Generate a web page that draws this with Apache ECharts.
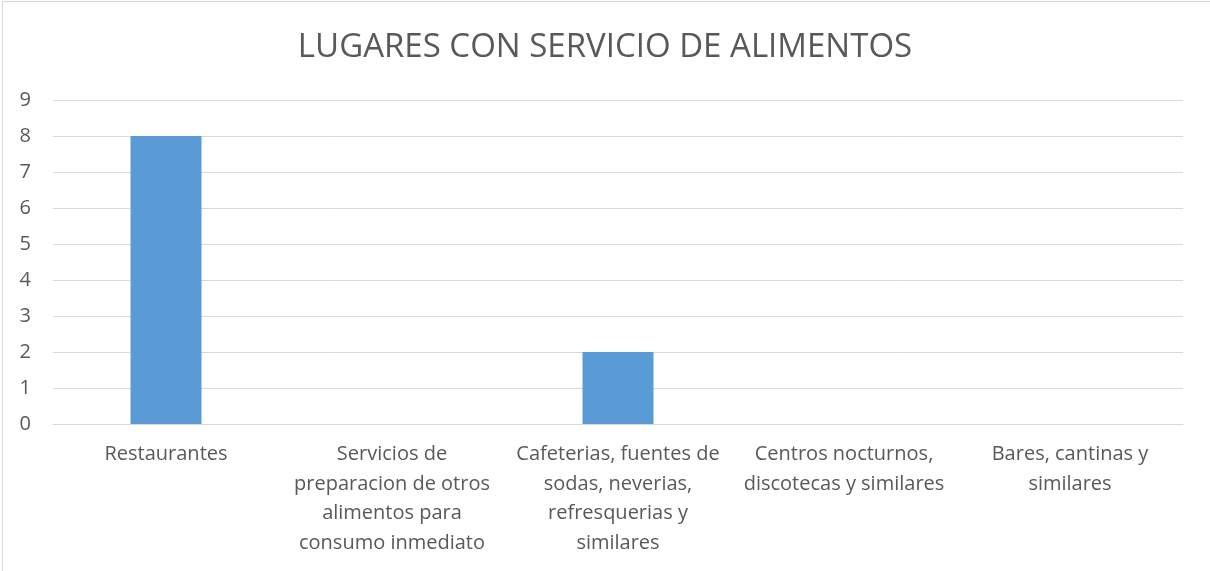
<!DOCTYPE html>
<html>
<head>
<meta charset="utf-8">
<script src="https://cdn.jsdelivr.net/npm/echarts@6/dist/echarts.min.js"></script>
<style>
  html, body { margin: 0; padding: 0; background: #fff; overflow: hidden; }
  .frame {
    position: absolute; left: 2px; top: 1px;
    width: 1300px; height: 700px;
    border: 1px solid #d9d9d9;
  }
  #chart { position: absolute; left: 0; top: 0; width: 1210px; height: 571px; }
</style>
</head>
<body>
<div class="frame"></div>
<div id="chart"></div>
<script>
const titleText = 'LUGARES CON SERVICIO DE ALIMENTOS'
const categories = [
  'Restaurantes',
  'Servicios de\npreparacion de otros\nalimentos para\nconsumo inmediato',
  'Cafeterias, fuentes de\nsodas, neverias,\nrefresquerias y\nsimilares',
  'Centros nocturnos,\ndiscotecas y similares',
  'Bares, cantinas y\nsimilares'
]
const values = [8, 0, 2, 0, 0]

const chart = echarts.init(document.getElementById('chart'))
const font = "'Open Sans', 'Noto Sans', sans-serif"

chart.setOption({
  backgroundColor: 'transparent',
  animation: false,
  title: {
    text: titleText,
    left: 'center',
    top: 26,
    textStyle: { color: '#595959', fontSize: 33, fontWeight: 'normal', fontFamily: font }
  },
  grid: { left: 53, right: 27, top: 100, bottom: 147 },
  xAxis: {
    type: 'category',
    data: categories,
    axisLine: { lineStyle: { color: '#d9d9d9', width: 1 } },
    axisTick: { show: false },
    axisLabel: {
      color: '#595959', fontSize: 20, fontFamily: font,
      lineHeight: 29.5, margin: 16, interval: 0
    }
  },
  yAxis: {
    type: 'value',
    min: 0, max: 9, interval: 1,
    axisLine: { show: false },
    axisTick: { show: false },
    axisLabel: { color: '#595959', fontSize: 20, fontFamily: font, margin: 22 },
    splitLine: { lineStyle: { color: '#d9d9d9', width: 1 } }
  },
  series: [{
    type: 'bar',
    data: values,
    barWidth: 71,
    itemStyle: { color: '#5b9bd5' }
  }]
})
</script>
</body>
</html>
